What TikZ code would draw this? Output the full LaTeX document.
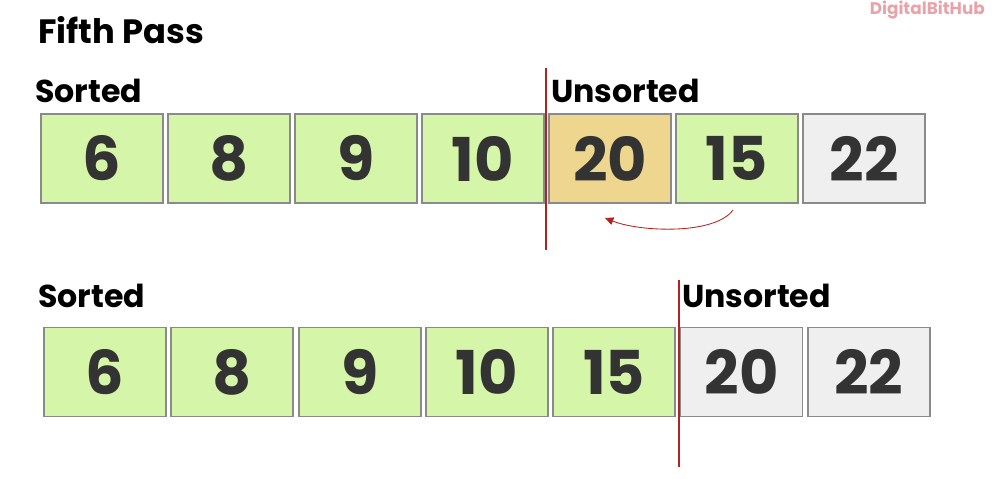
\documentclass[tikz,border=0pt]{standalone}
\usepackage{fontspec}
\setmainfont{Poppins}[BoldFont={* Bold}]
\usetikzlibrary{arrows.meta}
\definecolor{gfill}{HTML}{D5F6A8}
\definecolor{ofill}{HTML}{EFD68E}
\definecolor{xfill}{HTML}{EFEFEF}
\definecolor{bd}{HTML}{8A8A8A}
\definecolor{txt}{HTML}{333333}
\definecolor{rl}{HTML}{B22222}
\definecolor{logo}{HTML}{E8A2AA}
\tikzset{
 cell/.style={draw=bd,line width=2.6pt,minimum width=122*0.05cm,minimum height=89*0.05cm,inner sep=0,font=\fontsize{86}{86}\selectfont\bfseries,text=txt},
 lab/.style={anchor=west,font=\fontsize{45}{45}\selectfont\bfseries,text=black,inner sep=0},
 div/.style={rl,line width=2.6pt}
}
\begin{document}
\begin{tikzpicture}[x=0.05cm,y=-0.05cm]
\useasboundingbox (0,0) rectangle (1000,478);
\node[lab,font=\fontsize{48}{48}\selectfont\bfseries] (t) at (38,30) {Fifth Pass};
\node[anchor=east,font=\fontsize{24}{24}\selectfont\bfseries,text=logo,inner sep=0] (lg) at (985,10) {DigitalBitHub};
\node[lab] (s1) at (35,91) {Sorted};
\node[lab] (u1) at (551,91) {Unsorted};
\node[lab] (s2) at (38,296) {Sorted};
\node[lab] (u2) at (682,296) {Unsorted};
\foreach \v/\c [count=\i from 0] in {6/gfill,8/gfill,9/gfill,10/gfill,20/ofill,15/gfill,22/xfill}
  \node[cell,fill=\c] (a\i) at (102+127*\i,158.5) {\v};
\foreach \v/\c [count=\i from 0] in {6/gfill,8/gfill,9/gfill,10/gfill,15/gfill,20/xfill,22/xfill}
  \node[cell,fill=\c] (b\i) at (105+127.3*\i,372) {\v};
\coordinate (d1t) at (546,68); \coordinate (d1b) at (546,250);
\coordinate (d2t) at (679,280); \coordinate (d2b) at (679,467);
\draw[div] (d1t) -- (d1b);
\draw[div] (d2t) -- (d2b);
\coordinate (as) at (733,210); \coordinate (ae) at (605,218);
\draw[rl,line width=1.2pt,-{Triangle[length=12pt,width=11pt]}] (as) .. controls (715,235) and (640,232) .. (ae);
\end{tikzpicture}
\end{document}
